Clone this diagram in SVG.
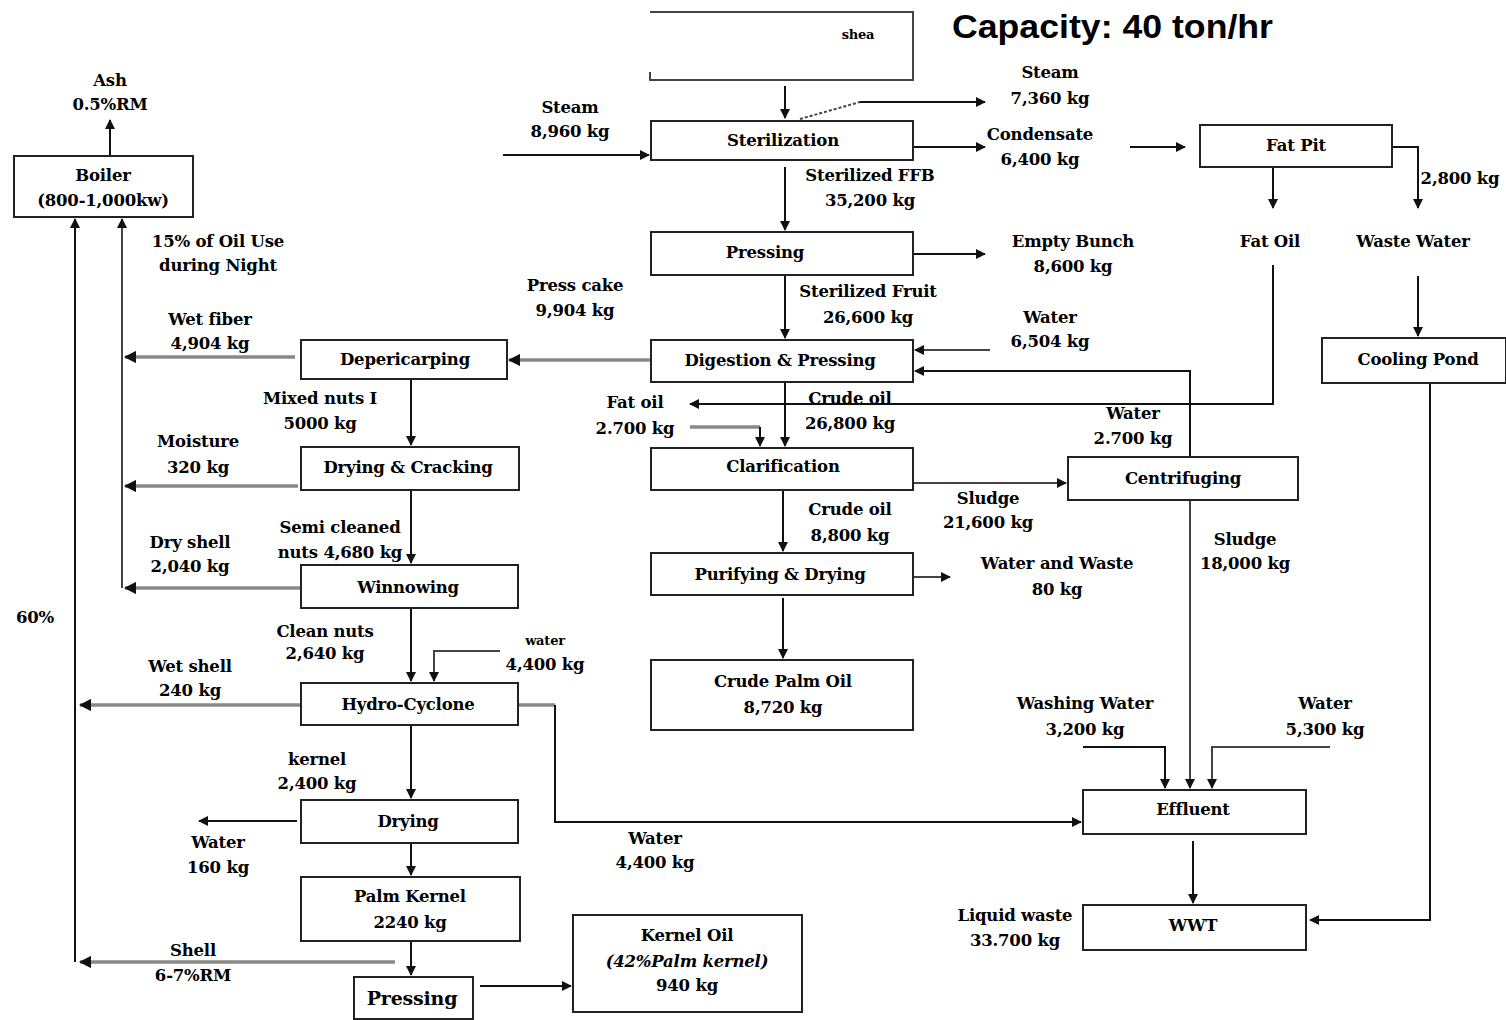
<svg xmlns="http://www.w3.org/2000/svg" width="1506" height="1020" viewBox="0 0 1506 1020">
<defs>
<style>
text{font-family:"DejaVu Serif","Liberation Serif",serif;font-weight:bold;font-size:16.5px;fill:#000;text-anchor:middle;letter-spacing:-0.2px}
.box{fill:#fff;stroke:#222;stroke-width:2}
.l{fill:none;stroke:#111;stroke-width:2}
.g{fill:none;stroke:#888;stroke-width:3.5}
.d{fill:none;stroke:#444;stroke-width:2}
.cap{font-family:"Liberation Sans",Arial,sans-serif;font-size:33px;text-anchor:start;letter-spacing:0}
</style>
<marker id="a" viewBox="0 0 10 10" refX="9" refY="5" markerWidth="5" markerHeight="5" orient="auto" markerUnits="strokeWidth"><path d="M0,0 L10,5 L0,10 z" fill="#111"/></marker>
<marker id="ag" viewBox="0 0 10 10" refX="9" refY="5" markerWidth="3.5" markerHeight="3.5" orient="auto" markerUnits="strokeWidth"><path d="M0,0 L10,5 L0,10 z" fill="#111"/></marker>
</defs>
<rect width="1506" height="1020" fill="#fff"/>

<text class="cap" x="952" y="38" textLength="321" lengthAdjust="spacingAndGlyphs">Capacity: 40 ton/hr</text>

<g id="connectors">
<path class="l" d="M785,86 V118" marker-end="url(#a)"/>
<path class="d" d="M800,119 L860,102" stroke-dasharray="3,2"/>
<path class="l" d="M860,102 H985" marker-end="url(#a)"/>
<path class="l" d="M503,155 H649" marker-end="url(#a)"/>
<path class="l" d="M913,147 H985" marker-end="url(#a)"/>
<path class="l" d="M1130,147 H1185" marker-end="url(#a)"/>
<path class="l" d="M1273,167 V208" marker-end="url(#a)"/>
<path class="l" d="M1392,147 H1418 V208" marker-end="url(#a)"/>
<path class="l" d="M1418,276 V336" marker-end="url(#a)"/>
<path class="l" d="M1430,383 V920 H1310" marker-end="url(#a)"/>
<path class="l" d="M1273,265 V404 H690" marker-end="url(#a)"/>
<path class="l" d="M785,167 V230" marker-end="url(#a)"/>
<path class="l" d="M913,254 H985" marker-end="url(#a)"/>
<path class="l" d="M785,275 V338" marker-end="url(#a)"/>
<path class="d" d="M990,350 H915" marker-end="url(#a)"/>
<path class="l" d="M1190,457 V371 H915" marker-end="url(#a)"/>
<path class="g" d="M651,360 H509" marker-end="url(#ag)"/>
<path class="g" d="M295,357 H125" marker-end="url(#ag)"/>
<path class="d" d="M122,588 V219" marker-end="url(#a)"/>
<path class="l" d="M75,962 V219" marker-end="url(#a)"/>
<path class="l" d="M110,156 V120" marker-end="url(#a)"/>
<path class="l" d="M411,379 V445" marker-end="url(#a)"/>
<path class="g" d="M298,486 H125" marker-end="url(#ag)"/>
<path class="l" d="M411,490 V563" marker-end="url(#a)"/>
<path class="g" d="M300,588 H125" marker-end="url(#ag)"/>
<path class="l" d="M411,608 V681" marker-end="url(#a)"/>
<path class="d" d="M500,651 H434 V681" marker-end="url(#a)"/>
<path class="g" d="M300,705 H80" marker-end="url(#ag)"/>
<path class="g" d="M518,705 H555"/>
<path class="l" d="M555,705 V822 H1081" marker-end="url(#a)"/>
<path class="l" d="M411,725 V798" marker-end="url(#a)"/>
<path class="l" d="M297,821 H199" marker-end="url(#a)"/>
<path class="l" d="M411,843 V875" marker-end="url(#a)"/>
<path class="g" d="M395,962 H80" marker-end="url(#ag)"/>
<path class="l" d="M411,941 V975" marker-end="url(#a)"/>
<path class="l" d="M480,986 H571" marker-end="url(#a)"/>
<path class="l" d="M785,382 V446" marker-end="url(#a)"/>
<path class="g" d="M690,427 H760"/>
<path class="l" d="M760,427 V446" marker-end="url(#a)"/>
<path class="d" d="M913,483 H1066" marker-end="url(#a)"/>
<path class="d" d="M1190,500 V788" marker-end="url(#a)"/>
<path class="l" d="M783,490 V551" marker-end="url(#a)"/>
<path class="d" d="M913,577 H950" marker-end="url(#a)"/>
<path class="l" d="M783,598 V658" marker-end="url(#a)"/>
<path class="l" d="M1083,747 H1165 V788" marker-end="url(#a)"/>
<path class="d" d="M1330,747 H1212 V788" marker-end="url(#a)"/>
<path class="l" d="M1193,841 V903" marker-end="url(#a)"/>
</g>

<g id="reception">
<path class="d" d="M650,12 H913 V80 H650 V72"/>
<text x="858" y="39" style="font-size:13px">shea</text>
</g>
<g id="sterilization"><rect class="box" x="651" y="121" width="262" height="39"/><text x="783" y="146">Sterilization</text></g>
<g id="fatpit"><rect class="box" x="1200" y="125" width="192" height="42"/><text x="1296" y="151">Fat Pit</text></g>
<g id="coolingpond"><rect class="box" x="1322" y="338" width="184" height="45"/><text x="1418" y="365">Cooling Pond</text></g>
<g id="pressing1"><rect class="box" x="651" y="232" width="262" height="43"/><text x="765" y="258">Pressing</text></g>
<g id="digestion"><rect class="box" x="651" y="340" width="262" height="42"/><text x="780" y="366">Digestion &amp; Pressing</text></g>
<g id="depericarping"><rect class="box" x="301" y="340" width="206" height="39"/><text x="405" y="365">Depericarping</text></g>
<g id="boiler"><rect class="box" x="14" y="156" width="179" height="61"/><text x="103" y="181">Boiler</text><text x="103" y="206">(800-1,000kw)</text></g>
<g id="drying-cracking"><rect class="box" x="301" y="447" width="218" height="43"/><text x="408" y="473">Drying &amp; Cracking</text></g>
<g id="winnowing"><rect class="box" x="301" y="565" width="217" height="43"/><text x="408" y="593">Winnowing</text></g>
<g id="hydrocyclone"><rect class="box" x="301" y="683" width="217" height="42"/><text x="408" y="710">Hydro-Cyclone</text></g>
<g id="drying"><rect class="box" x="301" y="800" width="217" height="43"/><text x="408" y="827">Drying</text></g>
<g id="palmkernel"><rect class="box" x="301" y="877" width="219" height="64"/><text x="410" y="902">Palm Kernel</text><text x="410" y="928">2240 kg</text></g>
<g id="pressing2"><rect class="box" x="354" y="977" width="119" height="42"/><text x="412" y="1005" style="font-size:19px">Pressing</text></g>
<g id="kerneloil"><rect class="box" x="573" y="915" width="229" height="97"/><text x="687" y="941">Kernel Oil</text><text x="687" y="967" style="font-style:italic">(42%Palm kernel)</text><text x="687" y="991">940 kg</text></g>
<g id="clarification"><rect class="box" x="651" y="448" width="262" height="42"/><text x="783" y="472">Clarification</text></g>
<g id="centrifuging"><rect class="box" x="1068" y="457" width="230" height="43"/><text x="1183" y="484">Centrifuging</text></g>
<g id="purifying"><rect class="box" x="651" y="553" width="262" height="42"/><text x="780" y="580">Purifying &amp; Drying</text></g>
<g id="crudepalmoil"><rect class="box" x="651" y="660" width="262" height="70"/><text x="783" y="687">Crude Palm Oil</text><text x="783" y="713">8,720 kg</text></g>
<g id="effluent"><rect class="box" x="1083" y="790" width="223" height="44"/><text x="1193" y="815">Effluent</text></g>
<g id="wwt"><rect class="box" x="1083" y="905" width="223" height="45"/><text x="1193" y="931">WWT</text></g>

<g id="labels">
<text x="1050" y="78">Steam</text><text x="1050" y="104">7,360  kg</text>
<text x="570" y="113">Steam</text><text x="570" y="137">8,960 kg</text>
<text x="1040" y="140">Condensate</text><text x="1040" y="165">6,400 kg</text>
<text x="1460" y="184">2,800 kg</text>
<text x="1270" y="247">Fat Oil</text>
<text x="1413" y="247">Waste Water</text>
<text x="870" y="181">Sterilized FFB</text><text x="870" y="206">35,200  kg</text>
<text x="1073" y="247">Empty Bunch</text><text x="1073" y="272">8,600  kg</text>
<text x="868" y="297">Sterilized Fruit</text><text x="868" y="323">26,600  kg</text>
<text x="575" y="291">Press cake</text><text x="575" y="316">9,904  kg</text>
<text x="1050" y="323">Water</text><text x="1050" y="347">6,504 kg</text>
<text x="210" y="325">Wet fiber</text><text x="210" y="349">4,904 kg</text>
<text x="218" y="247">15% of Oil Use</text><text x="218" y="271">during Night</text>
<text x="110" y="86">Ash</text><text x="110" y="110">0.5%RM</text>
<text x="320" y="404">Mixed nuts I</text><text x="320" y="429">5000 kg</text>
<text x="198" y="447">Moisture</text><text x="198" y="473">320 kg</text>
<text x="340" y="533">Semi cleaned</text><text x="340" y="558">nuts 4,680 kg</text>
<text x="190" y="548">Dry shell</text><text x="190" y="572">2,040 kg</text>
<text x="35" y="623">60%</text>
<text x="325" y="637">Clean nuts</text><text x="325" y="659">2,640 kg</text>
<text x="545" y="645" style="font-size:13px">water</text><text x="545" y="670">4,400 kg</text>
<text x="190" y="672">Wet shell</text><text x="190" y="696">240 kg</text>
<text x="317" y="765">kernel</text><text x="317" y="789">2,400 kg</text>
<text x="218" y="848">Water</text><text x="218" y="873">160 kg</text>
<text x="655" y="844">Water</text><text x="655" y="868">4,400 kg</text>
<text x="193" y="956">Shell</text><text x="193" y="981">6-7%RM</text>
<text x="635" y="408">Fat oil</text><text x="635" y="434">2.700 kg</text>
<text x="850" y="404">Crude oil</text><text x="850" y="429">26,800 kg</text>
<text x="1133" y="419">Water</text><text x="1133" y="444">2.700 kg</text>
<text x="988" y="504">Sludge</text><text x="988" y="528">21,600 kg</text>
<text x="1245" y="545">Sludge</text><text x="1245" y="569">18,000 kg</text>
<text x="850" y="515">Crude  oil</text><text x="850" y="541">8,800 kg</text>
<text x="1057" y="569">Water and Waste</text><text x="1057" y="595">80 kg</text>
<text x="1085" y="709">Washing Water</text><text x="1085" y="735">3,200 kg</text>
<text x="1325" y="709">Water</text><text x="1325" y="735">5,300 kg</text>
<text x="1015" y="921">Liquid waste</text><text x="1015" y="946">33.700 kg</text>
</g>
</svg>
